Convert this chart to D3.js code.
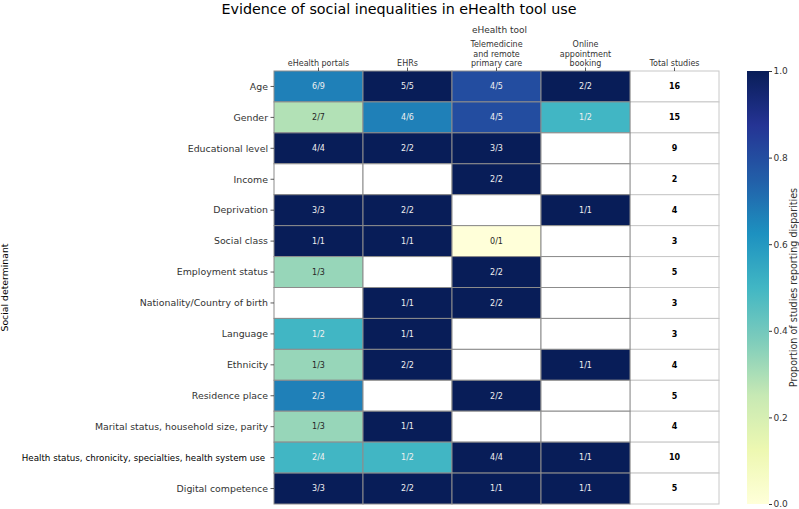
<!DOCTYPE html>
<html>
<head>
<meta charset="utf-8">
<script src="https://cdn.jsdelivr.net/npm/d3@7"></script>
<style>
  body { margin: 0; background: #fff; }
  svg { font-family: "DejaVu Sans", sans-serif; }
</style>
</head>
<body>
<svg width="799" height="509"></svg>
<script>
// row labels (social determinants)
var determinants = [
  "Age", "Gender", "Educational level", "Income", "Deprivation", "Social class",
  "Employment status", "Nationality/Country of birth", "Language", "Ethnicity",
  "Residence place", "Marital status, household size, parity",
  "Health status, chronicity, specialties, health system use ", "Digital competence"
];

var tools = ["eHealth portals", "EHRs", "Telemedicine\nand remote\nprimary care", "Online\nappointment\nbooking"];

// studies reporting disparities / studies total, per tool (null = no studies)
var portalsYes  = [6, 2, 4, null, 3, 1, 1, null, 1, 1, 2, 1, 2, 3];
var portalsAll  = [9, 7, 4, null, 3, 1, 3, null, 2, 3, 3, 3, 4, 3];
var ehrYes      = [5, 4, 2, null, 2, 1, null, 1, 1, 2, null, 1, 1, 2];
var ehrAll      = [5, 6, 2, null, 2, 1, null, 1, 1, 2, null, 1, 2, 2];
var teleYes     = [4, 4, 3, 2, null, 0, 2, 2, null, null, 2, null, 4, 1];
var teleAll     = [5, 5, 3, 2, null, 1, 2, 2, null, null, 2, null, 4, 1];
var bookingYes  = [2, 1, null, null, 1, null, null, null, null, 1, null, null, 1, 1];
var bookingAll  = [2, 2, null, null, 1, null, null, null, null, 1, null, null, 1, 1];

var totalStudies = [16, 15, 9, 2, 4, 3, 5, 3, 3, 4, 5, 4, 10, 5];

var colorTicks = [0, 0.2, 0.4, 0.6, 0.8, 1.0];

var yesCols = [portalsYes, ehrYes, teleYes, bookingYes];
var allCols = [portalsAll, ehrAll, teleAll, bookingAll];

var svg = d3.select("svg");
var mLeft = 274, mTop = 71, mRight = 719, mBottom = 504;

var colNames = tools.concat(["Total studies"]);
var x = d3.scaleBand().domain(d3.range(colNames.length)).range([mLeft, mRight]);
var y = d3.scaleBand().domain(d3.range(determinants.length)).range([mTop, mBottom]);
// YlGnBu, linear between the ColorBrewer stops (as matplotlib does)
var ylgnbu = d3.piecewise(d3.interpolateRgb, d3.schemeYlGnBu[9]);
var color = d3.scaleSequential(ylgnbu).domain([0, 1]);

function relLum(c) {
  var f = function(v) { v /= 255; return v <= 0.03928 ? v / 12.92 : Math.pow((v + 0.055) / 1.055, 2.4); };
  c = d3.rgb(c);
  return 0.2126 * f(c.r) + 0.7152 * f(c.g) + 0.0722 * f(c.b);
}

var cells = [];
determinants.forEach(function(d, i) {
  yesCols.forEach(function(col, j) {
    cells.push({ row: i, col: j, yes: col[i], all: allCols[j][i] });
  });
});

// total studies column (drawn first so the coloured cells' borders sit on top)
var g = svg.append("g");
g.selectAll("rect.total")
  .data(totalStudies)
  .enter().append("rect")
  .attr("class", "total")
  .attr("x", x(4))
  .attr("y", function(d, i) { return y(i); })
  .attr("width", x.bandwidth())
  .attr("height", y.bandwidth())
  .attr("fill", "#fff")
  .attr("stroke", "#c8c8c8")
  .attr("stroke-width", 1);

// cells
g.selectAll("rect.cell")
  .data(cells)
  .enter().append("rect")
  .attr("class", "cell")
  .attr("x", function(d) { return x(d.col); })
  .attr("y", function(d) { return y(d.row); })
  .attr("width", x.bandwidth())
  .attr("height", y.bandwidth())
  .attr("fill", function(d) { return d.all == null ? "#fff" : color(d.yes / d.all); })
  .attr("stroke", "#8c8c8c")
  .attr("stroke-width", 1);

g.selectAll("text.cell")
  .data(cells.filter(function(d) { return d.all != null; }))
  .enter().append("text")
  .attr("class", "cell")
  .attr("x", function(d) { return x(d.col) + x.bandwidth() / 2; })
  .attr("y", function(d) { return y(d.row) + y.bandwidth() / 2; })
  .attr("dy", "0.35em")
  .attr("text-anchor", "middle")
  .attr("font-size", 8)
  .attr("fill", function(d) {
    return relLum(color(d.yes / d.all)) > 0.408 ? "#262626" : "#f0f0f0";
  })
  .text(function(d) { return d.yes + "/" + d.all; });

g.selectAll("text.total")
  .data(totalStudies)
  .enter().append("text")
  .attr("class", "total")
  .attr("x", x(4) + x.bandwidth() / 2)
  .attr("y", function(d, i) { return y(i) + y.bandwidth() / 2; })
  .attr("dy", "0.35em")
  .attr("text-anchor", "middle")
  .attr("font-size", 8)
  .attr("font-weight", "bold")
  .attr("fill", "#000")
  .text(function(d) { return d; });

// row labels
var yl = svg.append("g");
determinants.forEach(function(d, i) {
  var cy = y(i) + y.bandwidth() / 2;
  yl.append("line")
    .attr("x1", mLeft - 3.5).attr("x2", mLeft)
    .attr("y1", cy).attr("y2", cy)
    .attr("stroke", "#333").attr("stroke-width", 0.8);
  var t = yl.append("text")
    .attr("x", mLeft - 6)
    .attr("y", cy)
    .attr("dy", "0.35em")
    .attr("text-anchor", "end")
    .attr("font-size", 9.4)
    .attr("fill", i == 12 ? "#000" : "#333")
    .style("white-space", "pre")
    .text(d);
  // the long label is set tighter in the reference
  if (i == 12) {
    var w = t.node().getComputedTextLength();
    t.attr("font-size", 9.4 * 246 / w);
  }
});

// column labels on top
var xl = svg.append("g");
colNames.forEach(function(name, j) {
  var cx = x(j) + x.bandwidth() / 2;
  xl.append("line")
    .attr("x1", cx).attr("x2", cx)
    .attr("y1", mTop).attr("y2", mTop - 3.5)
    .attr("stroke", "#333").attr("stroke-width", 0.8);
  var lines = name.split("\n");
  lines.forEach(function(l, k) {
    xl.append("text")
      .attr("x", cx)
      .attr("y", mTop - 5 - (lines.length - 1 - k) * 9.5)
      .attr("text-anchor", "middle")
      .attr("font-size", 8)
      .attr("fill", "#333")
      .text(l);
  });
});

svg.append("text")
  .attr("x", (mLeft + mRight) / 2 + 3)
  .attr("y", 33)
  .attr("text-anchor", "middle")
  .attr("font-size", 9)
  .attr("fill", "#333")
  .text("eHealth tool");

svg.append("text")
  .attr("x", 5)
  .attr("y", (mTop + mBottom) / 2)
  .attr("transform", "rotate(-90," + 5 + "," + (mTop + mBottom) / 2 + ")")
  .attr("text-anchor", "middle")
  .attr("dy", "0.35em")
  .attr("font-size", 9.3)
  .attr("fill", "#000")
  .text("Social determinant");

svg.append("text")
  .attr("x", 399)
  .attr("y", 14)
  .attr("text-anchor", "middle")
  .attr("font-size", 14.3)
  .attr("fill", "#000")
  .text("Evidence of social inequalities in eHealth tool use");

// colorbar
var cbX = 747, cbW = 22;
var defs = svg.append("defs");
var grad = defs.append("linearGradient")
  .attr("id", "cbar")
  .attr("x1", 0).attr("y1", 1).attr("x2", 0).attr("y2", 0);
d3.range(0, 1.0001, 0.025).forEach(function(t) {
  grad.append("stop").attr("offset", t).attr("stop-color", color(t));
});
svg.append("rect")
  .attr("x", cbX).attr("y", mTop)
  .attr("width", cbW).attr("height", mBottom - mTop)
  .attr("fill", "url(#cbar)");

var cScale = d3.scaleLinear().domain([0, 1]).range([mBottom, mTop]);
var cAxis = svg.append("g")
  .attr("transform", "translate(" + (cbX + cbW) + ",0)")
  .call(d3.axisRight(cScale).tickValues(colorTicks).tickFormat(d3.format(".1f")).tickSize(3).tickPadding(1.5));
cAxis.select(".domain").remove();
cAxis.selectAll("text").attr("font-size", 9).attr("fill", "#333").attr("font-family", "DejaVu Sans, sans-serif");
cAxis.selectAll("line").attr("stroke", "#333");

svg.append("text")
  .attr("x", 794)
  .attr("y", (mTop + mBottom) / 2)
  .attr("transform", "rotate(-90,794," + (mTop + mBottom) / 2 + ")")
  .attr("text-anchor", "middle")
  .attr("dy", "0.35em")
  .attr("font-size", 9.6)
  .attr("fill", "#333")
  .text("Proportion of studies reporting disparities");
</script>
</body>
</html>
